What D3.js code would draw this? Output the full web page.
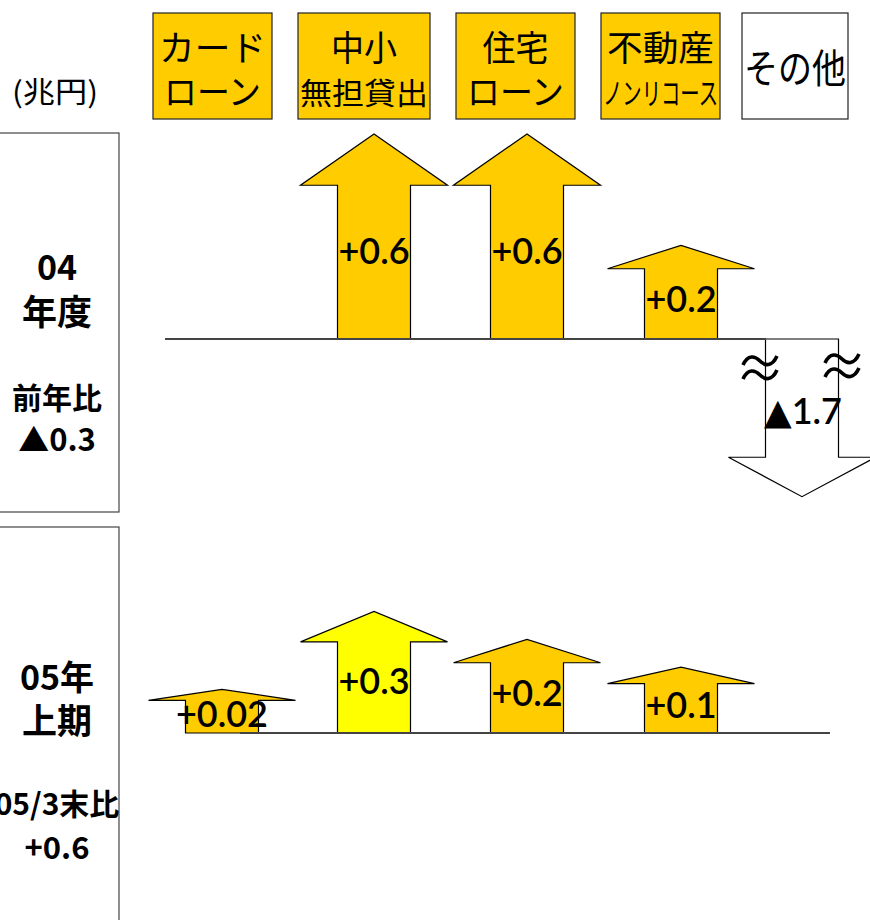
<!DOCTYPE html>
<html>
<head>
<meta charset="utf-8">
<script src="https://cdn.jsdelivr.net/npm/d3@7"></script>
<style>
  html, body { margin: 0; padding: 0; background: #fff; }
  svg { display: block; }
</style>
</head>
<body>
<script>
// Loan categories (column headers)
const categories = ["カードローン", "中小無担貸出", "住宅ローン", "不動産ノンリコース", "その他"];
const headerTop = ["カード", "中小", "住宅", "不動産", "その他"];
const headerBottom = ["ローン", "無担貸出", "ローン", "ノンリコース", ""];

// Change in balance (trillion yen) per category
const fy04Values = [null, 0.6, 0.6, 0.2, -1.7];
const h105Values = [0.02, 0.3, 0.2, 0.1, null];
const h105Highlight = ["中小無担貸出"];

// Period panels on the left
const periodFy04 = ["04", "年度", "前年比", "▲0.3"];
const periodH105 = ["05年", "上期", "05/3末比", "+0.6"];
const unitLabel = "(兆円)";

const W = 870, H = 920;
const svg = d3.select("body").append("svg").attr("width", W).attr("height", H);

const GOLD = "#FFCC00", YELLOW = "#FFFF00";
const jp = "'Noto Sans CJK JP', 'Noto Sans', sans-serif";
const num = "Lato, 'Noto Sans', 'DejaVu Sans', sans-serif";

// Column layout
const boxLeft = d3.scaleOrdinal(categories, [153, 298, 456, 601, 742]);
const boxWidth = d3.scaleOrdinal(categories, [119, 132, 119, 119, 106]);
const arrowX = d3.scaleOrdinal(categories, [222, 374, 527, 681, 802]);

// Arrow length from value (minimum stub + proportional part)
const len = d3.scaleLinear().domain([0, 0.6]).range([38, 205]);
const breakAt = 0.43; // values beyond this are drawn broken (≈)
const shaftW = 73, headW = 147, headRatio = 0.25;

function fmt(v) { return v < 0 ? "▲" + Math.abs(v) : "+" + v; }

function arrowPath(cx, base, L, dir) {
  // dir = -1 up, +1 down
  const hh = L * headRatio;
  const s = shaftW / 2, h = headW / 2;
  const tip = base + dir * L, hb = base + dir * (L - hh);
  return `M${cx - s},${base} L${cx - s},${hb} L${cx - h},${hb} L${cx},${tip} L${cx + h},${hb} L${cx + s},${hb} L${cx + s},${base} Z`;
}

function fitText(sel, width) {
  return sel.attr("textLength", width).attr("lengthAdjust", "spacingAndGlyphs");
}

// Header boxes
const hdr = svg.append("g");
categories.forEach((c, i) => {
  const x = boxLeft(c), w = boxWidth(c);
  hdr.append("rect").attr("x", x).attr("y", 13).attr("width", w).attr("height", 106)
    .attr("fill", i < 4 ? GOLD : "#fff").attr("stroke", "#222").attr("stroke-width", 1.2);
  const cx = x + w / 2;
  if (headerBottom[i]) {
    const top = hdr.append("text").attr("x", cx).attr("y", 61).attr("text-anchor", "middle")
      .attr("font-family", jp).attr("font-size", 35).text(headerTop[i]);
    fitText(top, headerTop[i].length * (headerTop[i].length > 2 ? 35 : 31) + (headerTop[i].length > 2 ? 2 : 4));
    const long = headerBottom[i].length > 3;
    const sub = hdr.append("text").attr("x", cx).attr("y", long ? 104 : 105).attr("text-anchor", "middle")
      .attr("font-family", jp).attr("font-size", long ? 30 : 35)
      .text(headerBottom[i]);
    fitText(sub, long ? w - 4 : 97);
  } else {
    fitText(hdr.append("text").attr("x", cx).attr("y", 83).attr("text-anchor", "middle")
      .attr("font-family", jp).attr("font-size", 40).text(headerTop[i]), w - 4);
  }
});
fitText(svg.append("text").attr("x", 55).attr("y", 103).attr("text-anchor", "middle")
  .attr("font-family", jp).attr("font-size", 29).text(unitLabel), 86);

// Left period panels
function periodPanel(y0, y1, lines, ys, sizes) {
  const g = svg.append("g");
  g.append("rect").attr("x", -2).attr("y", y0).attr("width", 121).attr("height", y1 - y0)
    .attr("fill", "none").attr("stroke", "#444").attr("stroke-width", 1.2);
  lines.forEach((t, i) => {
    g.append("text").attr("x", 57).attr("y", ys[i]).attr("text-anchor", "middle")
      .attr("font-family", jp).attr("font-weight", "bold").attr("font-size", sizes[i]).text(t);
  });
}
periodPanel(133, 512, periodFy04, [280, 325, 409, 451], [34, 35, 30, 31]);
periodPanel(527, 940, periodH105, [690, 734, 815, 859], [34, 35, 30, 31]);

// Draw one row of arrows
function row(values, base, lineX0, lineX1, highlight) {
  const g = svg.append("g");
  const data = categories.map((c, i) => ({ c, v: values[i] })).filter(d => d.v !== null);
  data.forEach(d => {
    const dir = d.v >= 0 ? -1 : 1;
    const broken = Math.abs(d.v) > breakAt;
    const L = len(broken && d.v < 0 ? breakAt : Math.abs(d.v));
    const cx = arrowX(d.c);
    g.append("path").attr("d", arrowPath(cx, base, L, dir))
      .attr("fill", d.v < 0 ? "#fff" : (highlight.includes(d.c) ? YELLOW : GOLD))
      .attr("stroke", "#000").attr("stroke-width", 1.2).attr("stroke-linejoin", "miter");
    d.L = L; d.cx = cx; d.dir = dir; d.broken = broken && d.v < 0;
  });
  g.append("line").attr("x1", lineX0).attr("x2", lineX1).attr("y1", base).attr("y2", base)
    .attr("stroke", "#444").attr("stroke-width", 2);
  data.forEach(d => {
    if (d.broken) {
      // break marks on both shaft edges
      [[d.cx - 42, base + 22], [d.cx + 40, base + 20]].forEach(([x, y]) => {
        [0, 14].forEach(dy => {
          const yy = y + dy;
          g.append("path")
            .attr("d", `M${x - 17},${yy + 4} C${x - 12},${yy - 7} ${x - 5},${yy - 5} ${x},${yy} S${x + 12},${yy + 6} ${x + 17},${yy - 5}`)
            .attr("fill", "none").attr("stroke", "#000").attr("stroke-width", 3.6);
        });
      });
      g.append("text").attr("x", d.cx + 1).attr("y", base + 85).attr("text-anchor", "middle")
        .attr("font-family", num).attr("font-size", 36).attr("font-weight", 600).text(fmt(d.v));
    } else {
      g.append("text").attr("x", d.cx).attr("y", base + d.dir * 0.43 * d.L)
        .attr("dy", "0.36em").attr("text-anchor", "middle")
        .attr("font-family", num).attr("font-size", 36).attr("font-weight", 600).text(fmt(d.v));
    }
  });
}

row(fy04Values, 339, 165, 766, []);
row(h105Values, 733, 240, 830, h105Highlight);
</script>
</body>
</html>
